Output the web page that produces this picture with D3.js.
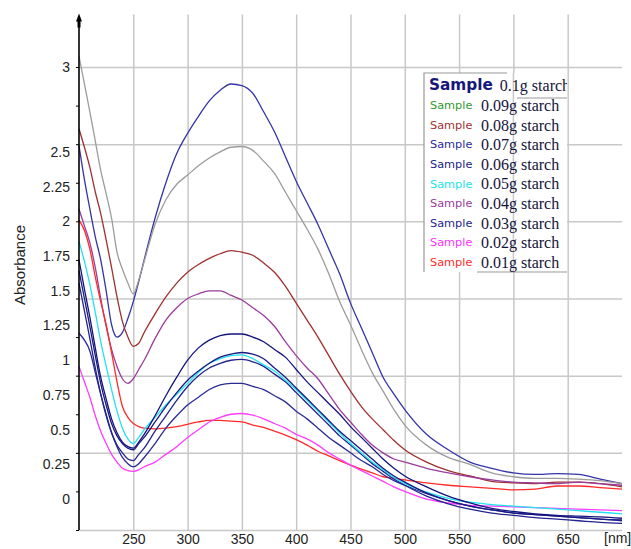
<!DOCTYPE html>
<html>
<head>
<meta charset="utf-8">
<script src="https://cdn.jsdelivr.net/npm/d3@7"></script>
<style>
  html, body { margin: 0; padding: 0; background: #ffffff; }
  svg { display: block; }
</style>
</head>
<body>
<svg id="chart" width="631" height="549"></svg>
<script>
// Wavelength grid (nm) shared by every absorbance series
const wavelengths = [200,205,210,215,220,225,230,235,240,245,250,255,260,270,280,290,300,310,320,330,340,350,360,370,380,390,400,410,420,430,440,450,460,470,480,490,500,520,540,560,580,600,620,640,660,680,700];

// Absorbance per sample, one value per wavelength above
const starch010 = [2.49,2.27,2.08,1.90,1.75,1.55,1.33,1.25,1.28,1.37,1.48,1.61,1.75,2.02,2.25,2.44,2.57,2.68,2.78,2.85,2.89,2.88,2.83,2.71,2.58,2.42,2.26,2.12,1.98,1.82,1.66,1.47,1.31,1.15,0.99,0.88,0.78,0.62,0.52,0.44,0.40,0.37,0.36,0.365,0.36,0.33,0.30];
const starch009 = [3.07,2.89,2.71,2.52,2.33,2.18,2.02,1.80,1.69,1.60,1.53,1.62,1.74,1.98,2.14,2.24,2.30,2.36,2.41,2.45,2.48,2.485,2.46,2.39,2.31,2.19,2.07,1.95,1.82,1.66,1.48,1.33,1.17,1.02,0.90,0.78,0.68,0.55,0.47,0.425,0.37,0.345,0.335,0.335,0.33,0.32,0.30];
const starch008 = [2.60,2.48,2.35,2.19,2.05,1.88,1.70,1.51,1.35,1.25,1.19,1.21,1.28,1.40,1.51,1.60,1.67,1.72,1.76,1.79,1.81,1.80,1.78,1.73,1.67,1.58,1.47,1.36,1.25,1.13,1.01,0.90,0.80,0.72,0.65,0.58,0.52,0.44,0.385,0.35,0.315,0.305,0.30,0.31,0.31,0.30,0.28];
const starch007 = [1.75,1.56,1.38,1.18,0.99,0.85,0.72,0.63,0.57,0.54,0.53,0.57,0.62,0.74,0.87,0.99,1.10,1.18,1.23,1.26,1.27,1.27,1.25,1.22,1.17,1.12,1.04,0.96,0.89,0.82,0.75,0.67,0.60,0.53,0.46,0.40,0.35,0.28,0.22,0.175,0.14,0.12,0.105,0.095,0.09,0.085,0.076];
const starch006 = [1.68,1.50,1.32,1.13,0.95,0.81,0.69,0.61,0.56,0.53,0.52,0.56,0.60,0.70,0.80,0.89,0.97,1.03,1.08,1.12,1.14,1.15,1.14,1.11,1.05,0.99,0.92,0.85,0.78,0.71,0.64,0.58,0.52,0.46,0.40,0.35,0.31,0.24,0.19,0.155,0.13,0.11,0.10,0.09,0.08,0.07,0.065];
const starch005 = [1.87,1.74,1.59,1.41,1.22,1.06,0.91,0.77,0.66,0.59,0.56,0.60,0.65,0.73,0.81,0.88,0.95,1.02,1.08,1.11,1.13,1.135,1.11,1.07,1.03,0.97,0.91,0.84,0.77,0.70,0.63,0.56,0.50,0.44,0.39,0.34,0.30,0.245,0.205,0.18,0.165,0.155,0.145,0.135,0.125,0.115,0.105];
const starch004 = [2.08,1.97,1.86,1.70,1.50,1.32,1.17,1.06,0.98,0.95,0.98,1.04,1.10,1.24,1.36,1.44,1.50,1.53,1.55,1.55,1.52,1.49,1.44,1.39,1.32,1.22,1.13,1.05,0.98,0.88,0.78,0.70,0.62,0.55,0.50,0.46,0.44,0.40,0.37,0.345,0.325,0.31,0.305,0.30,0.31,0.30,0.29];
const starch003 = [1.60,1.42,1.24,1.05,0.88,0.74,0.63,0.55,0.50,0.46,0.45,0.49,0.53,0.64,0.74,0.84,0.93,1.00,1.05,1.08,1.10,1.105,1.09,1.06,1.01,0.96,0.89,0.82,0.75,0.68,0.61,0.55,0.49,0.43,0.38,0.33,0.29,0.22,0.17,0.135,0.11,0.095,0.08,0.07,0.06,0.05,0.043];
const starch002 = [1.06,0.96,0.86,0.74,0.64,0.56,0.49,0.44,0.40,0.385,0.38,0.39,0.41,0.44,0.49,0.54,0.60,0.65,0.70,0.73,0.75,0.755,0.745,0.72,0.69,0.66,0.62,0.59,0.55,0.50,0.46,0.42,0.385,0.35,0.315,0.28,0.25,0.20,0.175,0.16,0.155,0.15,0.145,0.14,0.135,0.13,0.125];
const starch001 = [2.01,1.94,1.82,1.64,1.48,1.33,1.15,0.96,0.80,0.73,0.69,0.67,0.66,0.655,0.66,0.67,0.685,0.70,0.71,0.71,0.705,0.70,0.68,0.665,0.64,0.615,0.585,0.55,0.51,0.48,0.45,0.42,0.395,0.37,0.345,0.335,0.325,0.305,0.29,0.28,0.27,0.26,0.265,0.285,0.285,0.275,0.265];
// extra scan drawn without a legend entry
const extraScan = [1.275,1.23,1.16,1.02,0.88,0.75,0.63,0.54,0.47,0.43,0.41,0.43,0.47,0.56,0.66,0.74,0.81,0.86,0.91,0.94,0.95,0.95,0.93,0.91,0.87,0.83,0.77,0.72,0.66,0.60,0.55,0.50,0.45,0.41,0.36,0.32,0.29,0.235,0.19,0.155,0.13,0.11,0.10,0.09,0.08,0.07,0.06];

// Legend entries, top to bottom
const sampleLabels = ["0.1g starch","0.09g starch","0.08g starch","0.07g starch","0.06g starch","0.05g starch","0.04g starch","0.03g starch","0.02g starch","0.01g starch"];

// Axis tick values
const xTickValues = [250,300,350,400,450,500,550,600,650];
const yTickValues = [0,0.25,0.5,0.75,1,1.25,1.5,1.75,2,2.25,2.5,2.75,3];
const yLabelValues = [0,0.25,0.5,0.75,1,1.25,1.5,1.75,2,2.25,2.5,3];
const yGridValues = [0,0.5,1,1.5,2,2.5,3];

// Styling
const curves = [
  { values: starch010, color: "#3434a6" },
  { values: starch009, color: "#9c9c9c" },
  { values: starch008, color: "#9e3030" },
  { values: starch004, color: "#9a3c9c" },
  { values: starch001, color: "#ff2a2a" },
  { values: starch002, color: "#ff3cff" },
  { values: extraScan, color: "#2a2a94" },
  { values: starch003, color: "#24248e" },
  { values: starch005, color: "#22e2f0" },
  { values: starch006, color: "#1a1a84" },
  { values: starch007, color: "#14147e" }
];
const legendSampleColors = ["#16167c","#2e9a2e","#9e3030","#2a2a9a","#1c1c84","#22e2f0","#9a3c9c","#24248e","#ff30ff","#ff2a2a"];

const svg = d3.select("#chart");
const sansFont = "'Liberation Sans', Arial, sans-serif";

const x = d3.scaleLinear().domain([200, 700]).range([79, 622]);
const y = d3.scaleLinear().domain([0, 3]).range([530, 67]);
// tick labels sit on their own, slightly compressed scale
const yLabel = d3.scaleLinear().domain([0, 2.5, 3]).range([499, 152, 67]);
const yTop = 3.34;

// Grid
const grid = svg.append("g");
grid.append("g")
  .attr("transform", `translate(${x(200)},0)`)
  .call(d3.axisLeft(y).tickValues(yGridValues).tickSize(-(x(700) - x(200))).tickFormat(""))
  .call(g => g.select(".domain").remove())
  .call(g => g.selectAll("line").attr("stroke", "#c8c8c8").attr("stroke-width", 1.5));
grid.append("g")
  .attr("transform", `translate(0,${y(0)})`)
  .call(d3.axisBottom(x).tickValues(xTickValues).tickSize(-(y(0) - y(yTop))).tickFormat(""))
  .call(g => g.select(".domain").remove())
  .call(g => g.selectAll("line").attr("stroke", "#c8c8c8").attr("stroke-width", 1.5));

// Spectra
const line = d3.line()
  .x((d, i) => x(wavelengths[i]))
  .y(d => y(d))
  .curve(d3.curveMonotoneX);

svg.append("g")
  .selectAll("path")
  .data(curves)
  .join("path")
  .attr("d", d => line(d.values))
  .attr("fill", "none")
  .attr("stroke", d => d.color)
  .attr("stroke-width", 1.3)
  .attr("stroke-linejoin", "round");

// Y axis: ticks, line and arrow head
const yAxis = svg.append("g").attr("transform", `translate(${x(200)},0)`);
yAxis.call(d3.axisLeft(y).tickValues(yTickValues).tickSize(3).tickFormat(""))
  .call(g => g.select(".domain").remove())
  .call(g => g.selectAll("line").attr("stroke", "#000"));
yAxis.append("line")
  .attr("x1", 0).attr("x2", 0)
  .attr("y1", y(0)).attr("y2", y(yTop) + 6)
  .attr("stroke", "#000").attr("stroke-width", 1.6);
yAxis.append("path")
  .attr("d", `M0,${y(yTop) - 1} L-3,${y(yTop) + 7} L3,${y(yTop) + 7} Z`)
  .attr("fill", "#000");
yAxis.append("rect")
  .attr("x", -1.5).attr("y", y(yTop) + 6).attr("width", 3).attr("height", 7)
  .attr("fill", "#000");

// Y tick labels
svg.append("g")
  .attr("transform", `translate(${x(200)},0)`)
  .call(d3.axisLeft(yLabel).tickValues(yLabelValues).tickSize(0).tickPadding(9).tickFormat(d3.format("~g")))
  .call(g => g.select(".domain").remove())
  .attr("font-family", sansFont)
  .attr("font-size", 14)
  .call(g => g.selectAll("text").attr("fill", "#222"));

// X tick labels
svg.append("g")
  .attr("transform", `translate(0,${y(0)})`)
  .call(d3.axisBottom(x).tickValues(xTickValues).tickSize(0).tickPadding(4).tickFormat(d3.format("d")))
  .call(g => g.select(".domain").remove())
  .attr("font-family", sansFont)
  .attr("font-size", 14)
  .call(g => g.selectAll("text").attr("fill", "#222"));

svg.append("text")
  .attr("x", 604).attr("y", 543)
  .attr("font-family", sansFont).attr("font-size", 14).attr("fill", "#222")
  .text("[nm]");

svg.append("text")
  .attr("transform", "translate(25,265) rotate(-90)")
  .attr("text-anchor", "middle")
  .attr("font-family", sansFont).attr("font-size", 15).attr("fill", "#222")
  .text("Absorbance");

// Legend
const legend = svg.append("g");
const legLeft = 424, legRight = 567, legTop = 73, legBottom = 272;
legend.append("rect")
  .attr("x", legLeft).attr("y", legTop)
  .attr("width", legRight - legLeft).attr("height", legBottom - legTop)
  .attr("fill", "#fff");
legend.append("line")
  .attr("x1", x(600)).attr("x2", x(600)).attr("y1", legTop).attr("y2", legBottom)
  .attr("stroke", "#c8c8c8").attr("stroke-width", 1.5);
legend.append("path")
  .attr("d", `M${legLeft},${legBottom} V${legTop} H507 M517,98 H${legRight} M477,${legBottom} H${legRight}`)
  .attr("fill", "none").attr("stroke", "#9a9a9a").attr("stroke-width", 1.2);

svg.append("defs").append("clipPath").attr("id", "legendClip")
  .append("rect").attr("x", legLeft).attr("y", legTop).attr("width", legRight - legLeft).attr("height", legBottom - legTop + 4);

const rowY = d3.scalePoint().domain(d3.range(sampleLabels.length)).range([86.7, 263.3]);
const rows = legend.append("g").attr("clip-path", "url(#legendClip)")
  .selectAll("g").data(sampleLabels).join("g");

rows.each(function (label, i) {
  const g = d3.select(this);
  const bold = i === 0;
  const fs = bold ? 15.3 : 11.3;
  const name = g.append("text")
    .attr("x", bold ? 429 : 430)
    .attr("y", rowY(i) + 0.245 * fs)
    .attr("font-family", "'DejaVu Sans', Verdana, sans-serif")
    .attr("font-weight", bold ? "bold" : "normal")
    .attr("font-size", fs)
    .attr("fill", legendSampleColors[i])
    .text("Sample");
  const nameRight = (bold ? 429 : 430) + name.node().getComputedTextLength();
  g.append("text")
    .attr("x", Math.max(481, nameRight + 7))
    .attr("y", rowY(i) + 1 + 0.23 * 16)
    .attr("font-family", "'Liberation Serif', 'Times New Roman', serif")
    .attr("font-size", 16)
    .attr("fill", "#14143a")
    .text(label);
});
</script>
</body>
</html>
